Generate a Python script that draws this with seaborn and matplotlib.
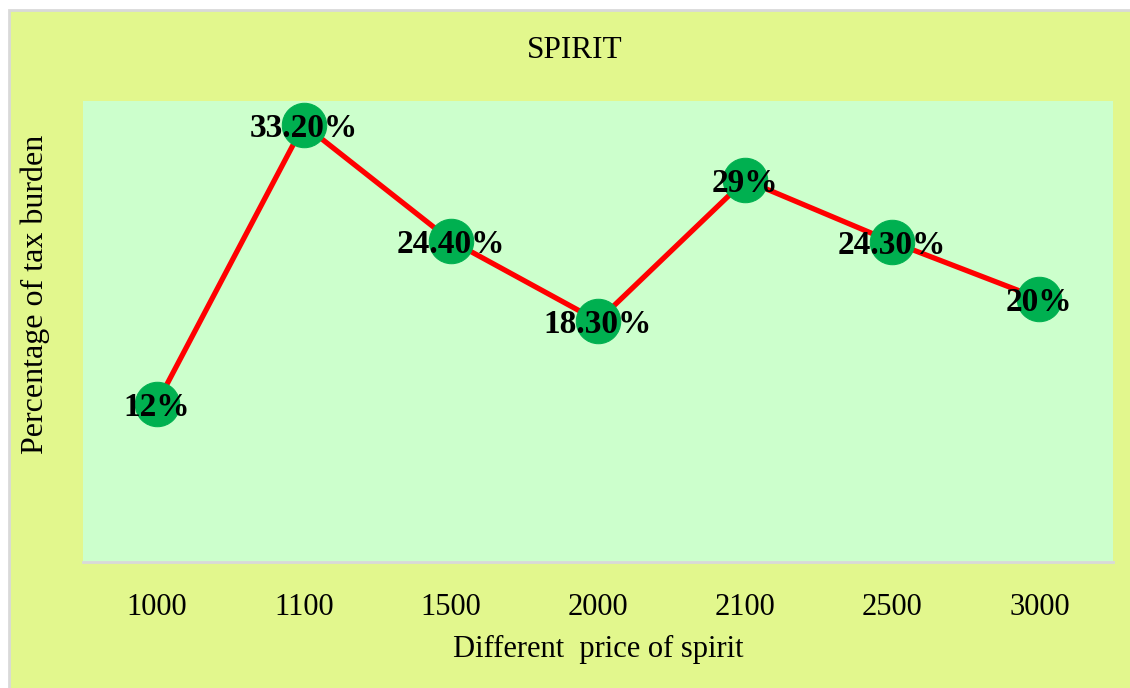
import matplotlib
matplotlib.use("Agg")
import matplotlib.pyplot as plt
import matplotlib.patches as mpatches
import pandas as pd
import seaborn as sns

prices = ["1000", "1100", "1500", "2000", "2100", "2500", "3000"]
tax_burden = [12, 33.2, 24.4, 18.3, 29, 24.3, 20]
point_labels = ["12%", "33.20%", "24.40%", "18.30%", "29%", "24.30%", "20%"]

data = pd.DataFrame({"price": prices, "tax": tax_burden})

sns.set_theme(style="white")
plt.rcParams['font.family'] = ['Liberation Serif', 'DejaVu Serif']
plt.rcParams['text.color'] = 'black'
plt.rcParams['axes.labelcolor'] = 'black'
plt.rcParams['xtick.color'] = 'black'

fig = plt.figure(figsize=(11.3, 6.88), dpi=100)
fig.patch.set_facecolor("white")

# outer chart area with grey frame
frame = mpatches.Rectangle((9 / 1130, -0.01), 1.02 - 9 / 1130, 1.01 - 10 / 688,
                           transform=fig.transFigure, facecolor="#E2F78D",
                           edgecolor="#D9D9D9", linewidth=2, zorder=-10)
fig.patches.append(frame)

ax = fig.add_axes([83 / 1130, 1 - 562 / 688, (1113 - 83) / 1130, (562 - 101) / 688])
ax.set_facecolor("#CCFFCC")

sns.lineplot(data=data, x="price", y="tax", ax=ax, color="#FF0000", linewidth=3.8,
             marker="o", markersize=32, markerfacecolor="#00B050",
             markeredgecolor="#00B050", sort=False)

for i, (v, lab) in enumerate(zip(tax_burden, point_labels)):
    ax.text(i, v, lab, ha="center", va="center_baseline", fontsize=24, fontweight="bold",
            color="black", zorder=5)

ax.set_xlim(-0.5, len(prices) - 0.5)
ax.set_ylim(0, 35)
ax.set_yticks([])
ax.tick_params(axis="x", length=0, labelsize=22, pad=22)
for s in ["top", "right", "left"]:
    ax.spines[s].set_visible(False)
ax.spines["bottom"].set_color("#D9D9D9")
ax.spines["bottom"].set_linewidth(2)

ax.set_xlabel("Different  price of spirit", fontsize=22, labelpad=10)
ax.set_ylabel("Percentage of tax burden", fontsize=23)
ax.yaxis.set_label_coords(-0.032, 0.58)
fig.text(575 / 1130, 1 - 50 / 688, "SPIRIT", ha="center", va="center", fontsize=22.5)

fig.savefig("out.png", dpi=100)
